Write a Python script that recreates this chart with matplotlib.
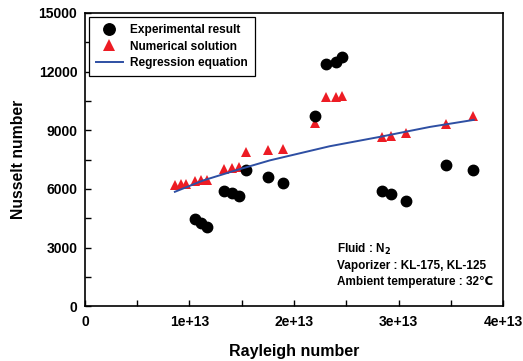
import matplotlib
matplotlib.use("Agg")
import matplotlib.pyplot as plt
from matplotlib.ticker import MultipleLocator

plt.rcParams['font.family'] = ['Liberation Sans', 'DejaVu Sans']
plt.rcParams['font.weight'] = 'bold'

# Experimental result (Rayleigh number, Nusselt number)
exp_ra = [1.053e13, 1.107e13, 1.164e13, 1.333e13, 1.404e13, 1.477e13, 1.538e13,
          1.748e13, 1.892e13, 2.202e13, 2.306e13, 2.402e13, 2.456e13,
          2.839e13, 2.928e13, 3.069e13, 3.455e13, 3.713e13]
exp_nu = [4440, 4265, 4060, 5890, 5800, 5630, 6960,
          6590, 6280, 9740, 12390, 12510, 12730,
          5890, 5730, 5380, 7235, 6950]

# Numerical solution
num_ra = [0.861e13, 0.916e13, 0.967e13, 1.053e13, 1.107e13, 1.164e13,
          1.333e13, 1.404e13, 1.477e13, 1.538e13, 1.748e13, 1.892e13,
          2.204e13, 2.306e13, 2.402e13, 2.462e13,
          2.839e13, 2.928e13, 3.069e13, 3.455e13, 3.713e13]
num_nu = [6200, 6230, 6260, 6400, 6450, 6450,
          7010, 7080, 7130, 7900, 7990, 8055,
          9390, 10720, 10720, 10770,
          8640, 8700, 8840, 9300, 9730]

# Regression equation
reg_ra = [0.86e13, 1.13e13, 1.45e13, 1.77e13, 2.34e13, 2.82e13, 3.30e13, 3.72e13]
reg_nu = [5850, 6430, 6960, 7460, 8180, 8660, 9170, 9530]

xtick_vals = [0, 1e13, 2e13, 3e13, 4e13]
xtick_labels = ['0', '1e+13', '2e+13', '3e+13', '4e+13']

fig = plt.figure(figsize=(5.23, 3.61), dpi=100)
ax = fig.add_axes([0.1625, 0.152, 0.7993, 0.812])

ax.plot(exp_ra, exp_nu, 'o', color='black', markersize=7.5, label='Experimental result', zorder=3)
ax.plot(num_ra, num_nu, '^', color='#ED1C24', markersize=7.5, markeredgewidth=0, label='Numerical solution', zorder=2)
ax.plot(reg_ra, reg_nu, '-', color='#2E4FA3', linewidth=1.4, label='Regression equation', zorder=4)

ax.set_xlim(0, 4e13)
ax.set_ylim(0, 15000)
ax.xaxis.set_minor_locator(MultipleLocator(0.5e13))
ax.yaxis.set_major_locator(MultipleLocator(3000))
ax.yaxis.set_minor_locator(MultipleLocator(1500))
ax.set_xticks(xtick_vals)
ax.set_xticklabels(xtick_labels)
ax.tick_params(which='both', direction='in', labelsize=10, width=1)
ax.tick_params(which='major', length=4)
ax.tick_params(which='minor', length=4)
ax.tick_params(axis='x', pad=6.5)
ax.tick_params(axis='y', pad=5.5)
for lab in ax.get_xticklabels() + ax.get_yticklabels():
    lab.set_fontweight('bold')
for s in ax.spines.values():
    s.set_linewidth(1.2)

ax.set_xlabel('Rayleigh number', fontsize=11.5, fontweight='bold', labelpad=11)
ax.set_ylabel('Nusselt number', fontsize=11.3, fontweight='bold', labelpad=9)

leg = ax.legend(loc='upper left', bbox_to_anchor=(0.0, 1.0), fontsize=8.6,
                frameon=True, fancybox=False, edgecolor='black', framealpha=1,
                handlelength=2.3, borderpad=0.6, labelspacing=0.4, handletextpad=0.6,
                borderaxespad=0.3, markerscale=1.1)
leg.get_frame().set_linewidth(0.9)
for t in leg.get_texts():
    t.set_fontweight('bold')

ax.text(0.603, 0.195, 'Fluid : N$_\\mathbf{2}$', transform=ax.transAxes, fontsize=8.5, fontweight='bold', va='center')
ax.text(0.603, 0.136, 'Vaporizer : KL-175, KL-125', transform=ax.transAxes, fontsize=8.5, fontweight='bold', va='center')
ax.text(0.603, 0.081, 'Ambient temperature : 32\u2103', transform=ax.transAxes, fontsize=8.5, fontweight='bold', va='center',
        family=['Liberation Sans', 'DejaVu Sans'])

fig.savefig('out.png', dpi=100)
